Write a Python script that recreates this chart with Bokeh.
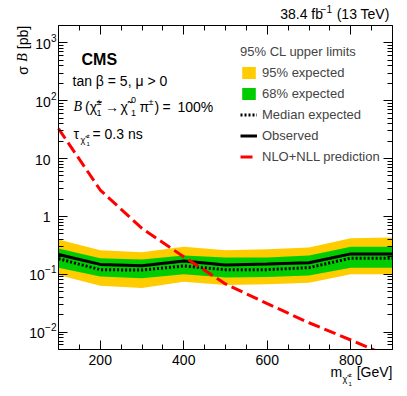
import math
from bokeh.plotting import figure
from bokeh.models import (Range1d, LogAxis, LinearAxis, FixedTicker, Label, Legend, LegendItem,
                          ColumnDataSource, BoxAnnotation)
from bokeh.embed import file_html
from bokeh.resources import INLINE

# ---------------- data ----------------
mass = [100, 200, 300, 400, 500, 600, 700, 800, 900]
exp95_up = [0.40, 0.26, 0.24, 0.30, 0.26, 0.27, 0.29, 0.42, 0.43]
exp68_up = [0.28, 0.19, 0.18, 0.21, 0.195, 0.195, 0.21, 0.30, 0.30]
observed = [0.22, 0.148, 0.14, 0.17, 0.145, 0.15, 0.158, 0.225, 0.225]
expected = [0.185, 0.12, 0.118, 0.139, 0.12, 0.12, 0.13, 0.19, 0.19]
exp68_dn = [0.13, 0.091, 0.085, 0.10, 0.088, 0.09, 0.095, 0.13, 0.13]
exp95_dn = [0.097, 0.063, 0.058, 0.074, 0.065, 0.067, 0.071, 0.10, 0.10]
xsec = [33.0, 2.86, 0.62, 0.20, 0.068, 0.031, 0.0145, 0.0073, 0.0036]

x_lo, x_hi = 100, 900
y_lo, y_hi = 0.005, 2000
xtick_vals = [200, 400, 600, 800]
xtick_labels = ["200", "400", "600", "800"]
ytick_vals = [0.01, 0.1, 1, 10, 100, 1000]
ytick_base = ["10", "10", "1", "10", "10", "10"]
ytick_exp = ["\u22122", "\u22121", "", "", "2", "3"]

legend_title = "95% CL upper limits"
legend_labels = ["95% expected", "68% expected", "Median expected", "Observed", "NLO+NLL prediction"]

# ---------------- layout ----------------
W, H = 400, 390
FL, FR, FT, FB = 58, 392, 25, 349   # page pixels of the data box
FONT = "Liberation Sans"
kx = (FR - FL) / (x_hi - x_lo)
ky = (FB - FT) / (math.log10(y_hi) - math.log10(y_lo))
xr = Range1d(x_lo - FL / kx, x_hi + (W - FR) / kx)
yr = Range1d(10 ** (math.log10(y_lo) - (H - FB) / ky), 10 ** (math.log10(y_hi) + FT / ky))

p = figure(width=W, height=H, y_axis_type="log", x_range=xr, y_range=yr,
           output_backend="svg", toolbar_location=None,
           min_border_left=0, min_border_right=0, min_border_top=0, min_border_bottom=0)
p.outline_line_color = None
p.xgrid.visible = False
p.ygrid.visible = False
p.background_fill_color = "white"
p.border_fill_color = "white"

src = ColumnDataSource(dict(m=mass, y95u=exp95_up, y95d=exp95_dn, y68u=exp68_up,
                            y68d=exp68_dn, obs=observed, exp=expected, xs=xsec))

r95 = p.varea(x="m", y1="y95d", y2="y95u", source=src, fill_color="#FFCC00")
r68 = p.varea(x="m", y1="y68d", y2="y68u", source=src, fill_color="#00CC00")
rexp = p.line(x="m", y="exp", source=src, line_color="black", line_width=3, line_dash="2 2")
robs = p.line(x="m", y="obs", source=src, line_color="black", line_width=3)
rxs = p.line(x="m", y="xs", source=src, line_color="#FF0000", line_width=3, line_dash="12 5")

# mask everything below the lower edge of the plotting box (clip of the cross-section line)
p.add_layout(BoxAnnotation(top=y_lo, fill_color="white", fill_alpha=1.0, line_alpha=0, level="glyph"))

xminor = [v for v in range(x_lo, x_hi + 1, 50) if v not in xtick_vals]
yminor = [m * 10.0 ** e for e in range(-3, 4) for m in range(2, 10) if y_lo <= m * 10.0 ** e <= y_hi]


def style_axis(ax):
    ax.axis_line_color = "black"
    ax.axis_line_width = 1
    ax.major_tick_line_color = "black"
    ax.minor_tick_line_color = "black"
    ax.major_tick_in = 9
    ax.major_tick_out = 0
    ax.minor_tick_in = 5
    ax.minor_tick_out = 0
    ax.major_label_text_font_size = "0px"
    ax.major_label_text_alpha = 0
    ax.major_label_standoff = 0


xax = p.xaxis[0]
xax.ticker = FixedTicker(ticks=xtick_vals, minor_ticks=xminor)
xax.fixed_location = y_lo
xax.bounds = (x_lo, x_hi)
style_axis(xax)
yax = p.yaxis[0]
yax.ticker = FixedTicker(ticks=ytick_vals, minor_ticks=yminor)
yax.fixed_location = x_lo
yax.bounds = (y_lo, y_hi)
style_axis(yax)

top = LinearAxis(ticker=FixedTicker(ticks=xtick_vals, minor_ticks=xminor),
                 fixed_location=y_hi, bounds=(x_lo, x_hi))
style_axis(top)
p.add_layout(top, "above")
right = LogAxis(ticker=FixedTicker(ticks=ytick_vals, minor_ticks=yminor),
                fixed_location=x_hi, bounds=(y_lo, y_hi))
style_axis(right)
p.add_layout(right, "right")

# ---------------- legend ----------------
items = [LegendItem(label=l, renderers=[r]) for l, r in zip(legend_labels, [r95, r68, rexp, robs, rxs])]
leg = Legend(items=items, location=(240, H - 164), title=legend_title,
             title_text_font=FONT, title_text_font_size="13px", title_text_font_style="normal",
             title_standoff=6,
             label_text_font=FONT, label_text_font_size="13px",
             glyph_width=17, glyph_height=15, label_height=15, label_standoff=5,
             spacing=6, padding=0, margin=0,
             border_line_alpha=0, background_fill_alpha=0)
p.add_layout(leg)


# ---------------- texts ----------------
def lab(X, Y, text, size=14, font=FONT, style="normal", align="left", angle=0.0):
    p.add_layout(Label(x=X, y=H - Y, x_units="screen", y_units="screen",
                       text=text, text_font=font, text_font_size=f"{size}px",
                       text_font_style=style, text_align=align, text_baseline="middle",
                       angle=angle, text_color="black"))


# tick labels, positioned through the data scales
for v, t in zip(xtick_vals, xtick_labels):
    p.add_layout(Label(x=v, y=H - 359, x_units="data", y_units="screen", text=t,
                       text_font=FONT, text_font_size="14px", text_align="center",
                       text_baseline="middle", text_color="black"))
for v, b, e in zip(ytick_vals, ytick_base, ytick_exp):
    right_edge = 56 if e else 50
    exp_w = 5.6 * len(e) + (0.0 if not e.startswith("\u2212") else 0.5)
    p.add_layout(Label(x=right_edge - exp_w, y=v, x_units="screen", y_units="data", y_offset=-1,
                       text=b, text_font=FONT, text_font_size="14px", text_align="right",
                       text_baseline="middle", text_color="black"))
    if e:
        p.add_layout(Label(x=right_edge, y=v, x_units="screen", y_units="data", y_offset=5,
                           text=e, text_font=FONT, text_font_size="10px", text_align="right",
                           text_baseline="middle", text_color="black"))

CHI = "\u03c7\u0303"
SERIF = "Liberation Serif"

# luminosity
lab(393, 13, " (13 TeV)", align="right")
lab(331.5, 8, "\u22121", size=10, align="right")
lab(322.5, 13, "38.4 fb", align="right")

# y-axis title (rotated, reads upward, ends at the top of the box); pieces centred
lab(22, 37, "[pb]", align="center", angle=math.pi / 2)
lab(22, 57, "B", font=SERIF, style="italic", align="center", angle=math.pi / 2)
lab(22, 70, "\u03c3", align="center", angle=math.pi / 2)

# x-axis title
YX = 371
lab(330, YX, "m")
lab(342, YX + 7, CHI, size=9)
lab(348, YX + 3, "\u00b1", size=6)
lab(348, YX + 12, "1", size=6)
lab(392, YX, "[GeV]", align="right")

# CMS and model text
lab(81, 59, "CMS", size=16, style="bold")
lab(72, 80, "tan \u03b2 = 5, \u03bc > 0")

Y3 = 106
lab(73, Y3, "B", font=SERIF, style="italic")
lab(84.5, Y3, "(" + CHI)
lab(96, Y3 - 5, "\u00b1", size=9)
lab(96, Y3 + 6, "1", size=9)
lab(104.5, Y3, "\u2192")
lab(120, Y3, CHI)
lab(130.5, Y3 - 7, "0", size=9)
lab(130.5, Y3 + 6, "1", size=9)
lab(139, Y3, "\u03c0")
lab(148, Y3 - 5, "\u00b1", size=9)
lab(154, Y3, ")")
lab(162, Y3, "=")
lab(177, Y3, "100%")

Y4 = 133
lab(73, Y4, "\u03c4")
lab(80, Y4 + 6, CHI, size=9)
lab(86, Y4 + 2, "\u00b1", size=6)
lab(86, Y4 + 10, "1", size=6)
lab(92, Y4, "= 0.3 ns")

open("out.html", "w").write(file_html(p, INLINE))
